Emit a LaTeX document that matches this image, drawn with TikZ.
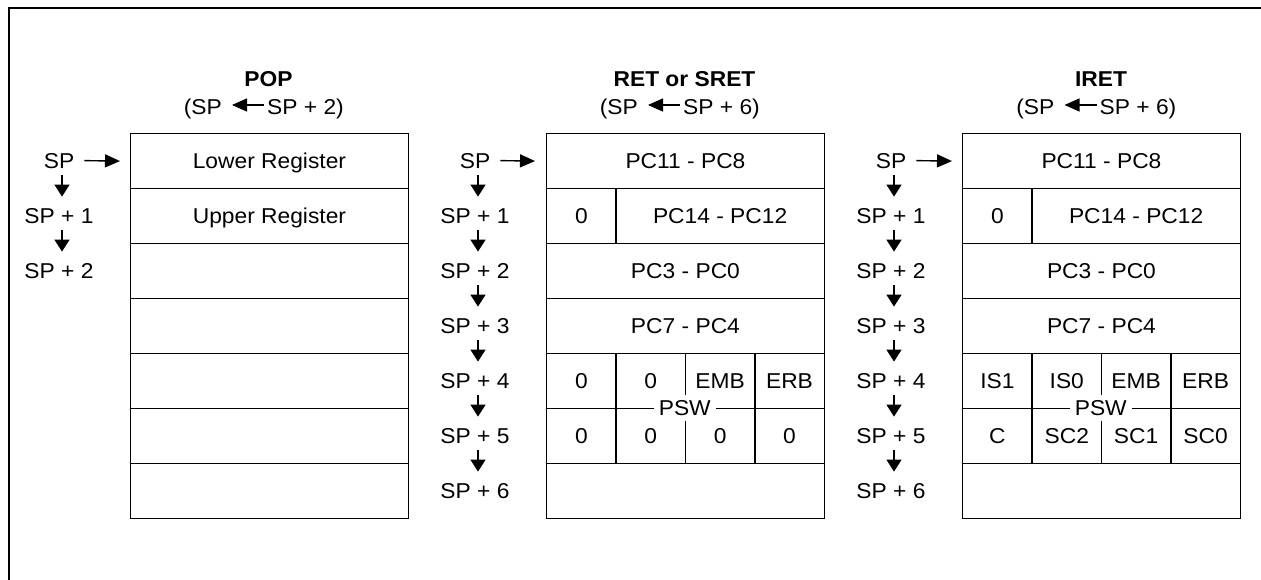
\documentclass[tikz,border=0pt]{standalone}
\usepackage{fontspec}
\setmainfont{Liberation Sans}[FakeStretch=1.06]
\usetikzlibrary{arrows.meta}
\begin{document}
\begin{tikzpicture}[x=1pt,y=-1pt,
  every node/.style={font=\fontsize{21.5}{25}\selectfont, inner sep=0pt, text height=15.4pt, text depth=0pt},
  cell/.style={draw, line width=1.4pt, anchor=north west, minimum height=55pt},
  full/.style={cell, minimum width=277.5pt},
  one/.style={cell, minimum width=69.375pt},
  three/.style={cell, minimum width=208.125pt},
  ttl/.style={font=\fontsize{21.5}{25}\selectfont\bfseries, anchor=base},
  psw/.style={fill=white, inner xsep=5pt, inner ysep=5.5pt},
  dar/.style={-{Triangle[length=12pt,width=15pt]}, line width=1.4pt},
  rar/.style={-{Triangle[length=15pt,width=13pt]}, line width=1.4pt}]
\useasboundingbox (0,0) rectangle (1261,580);
\draw[line width=2.2pt] (9,580) -- (9,8) -- (1261,8);

% ---------- POP ----------
\node[ttl] (tpop) at (268.5,87) {POP};
\node[anchor=east] (pa) at (222,107) {(SP};
\node[anchor=west] (pb) at (267,107) {SP + 2)};
\draw[rar, shorten <=3pt, shorten >=10pt] ([yshift=2pt]pb.west) -- ([yshift=2pt]pa.east);

\node[full] (p1) at (130,133) {Lower Register};
\node[full] (p2) at (130,188) {Upper Register};
\node[full] (p3) at (130,243) {};
\node[full] (p4) at (130,298) {};
\node[full] (p5) at (130,353) {};
\node[full] (p6) at (130,408) {};
\node[full] (p7) at (130,463) {};

\foreach \i in {0,1,2}{
  \node (pl\i) at (59,160.5+55*\i) {\ifnum\i=0 SP\else SP + \i\fi};
}
\foreach \i in {0,1}{
  \pgfmathtruncatemacro\j{\i+1}
  \draw[dar, shorten <=6.3pt, shorten >=11pt] ([xshift=3pt]pl\i.south) -- ([xshift=3pt]pl\j.north);
}
\draw[rar, shorten <=10pt, shorten >=10pt] (pl0.east) -- (p1.west);

% ---------- RET or SRET ----------
\node[ttl] (tret) at (684.5,87) {RET or SRET};
\node[anchor=east] (ra) at (638,107) {(SP};
\node[anchor=west] (rb) at (683,107) {SP + 6)};
\draw[rar, shorten <=3pt, shorten >=10pt] ([yshift=2pt]rb.west) -- ([yshift=2pt]ra.east);

\node[full] (r1) at (546,133) {PC11 - PC8};
\node[one] (r2a) at (546,188) {0};
\node[three] (r2b) at (615.375,188) {PC14 - PC12};
\node[full] (r3) at (546,243) {PC3 - PC0};
\node[full] (r4) at (546,298) {PC7 - PC4};
\node[one] (r5a) at (546,353) {0};
\node[one] (r5b) at (615.375,353) {0};
\node[one] (r5c) at (684.75,353) {EMB};
\node[one] (r5d) at (754.125,353) {ERB};
\node[one] (r6a) at (546,408) {0};
\node[one] (r6b) at (615.375,408) {0};
\node[one] (r6c) at (684.75,408) {0};
\node[one] (r6d) at (754.125,408) {0};
\node[full] (r7) at (546,463) {};
\node[psw] (rpsw) at (684.75,408) {PSW};

\foreach \i in {0,...,6}{
  \node (rl\i) at (475,160.5+55*\i) {\ifnum\i=0 SP\else SP + \i\fi};
}
\foreach \i in {0,...,5}{
  \pgfmathtruncatemacro\j{\i+1}
  \draw[dar, shorten <=6.3pt, shorten >=11pt] ([xshift=3pt]rl\i.south) -- ([xshift=3pt]rl\j.north);
}
\draw[rar, shorten <=10pt, shorten >=11pt] (rl0.east) -- (r1.west);

% ---------- IRET ----------
\node[ttl] (tiret) at (1101,87) {IRET};
\node[anchor=east] (ia) at (1054.5,107) {(SP};
\node[anchor=west] (ib) at (1099.5,107) {SP + 6)};
\draw[rar, shorten <=3pt, shorten >=10pt] ([yshift=2pt]ib.west) -- ([yshift=2pt]ia.east);

\node[full] (i1) at (962,133) {PC11 - PC8};
\node[one] (i2a) at (962,188) {0};
\node[three] (i2b) at (1031.375,188) {PC14 - PC12};
\node[full] (i3) at (962,243) {PC3 - PC0};
\node[full] (i4) at (962,298) {PC7 - PC4};
\node[one] (i5a) at (962,353) {IS1};
\node[one] (i5b) at (1031.375,353) {IS0};
\node[one] (i5c) at (1100.75,353) {EMB};
\node[one] (i5d) at (1170.125,353) {ERB};
\node[one] (i6a) at (962,408) {C};
\node[one] (i6b) at (1031.375,408) {SC2};
\node[one] (i6c) at (1100.75,408) {SC1};
\node[one] (i6d) at (1170.125,408) {SC0};
\node[full] (i7) at (962,463) {};
\node[psw] (ipsw) at (1100.75,408) {PSW};

\foreach \i in {0,...,6}{
  \node (il\i) at (891,160.5+55*\i) {\ifnum\i=0 SP\else SP + \i\fi};
}
\foreach \i in {0,...,5}{
  \pgfmathtruncatemacro\j{\i+1}
  \draw[dar, shorten <=6.3pt, shorten >=11pt] ([xshift=3pt]il\i.south) -- ([xshift=3pt]il\j.north);
}
\draw[rar, shorten <=10pt, shorten >=10pt] (il0.east) -- (i1.west);
\end{tikzpicture}
\end{document}
